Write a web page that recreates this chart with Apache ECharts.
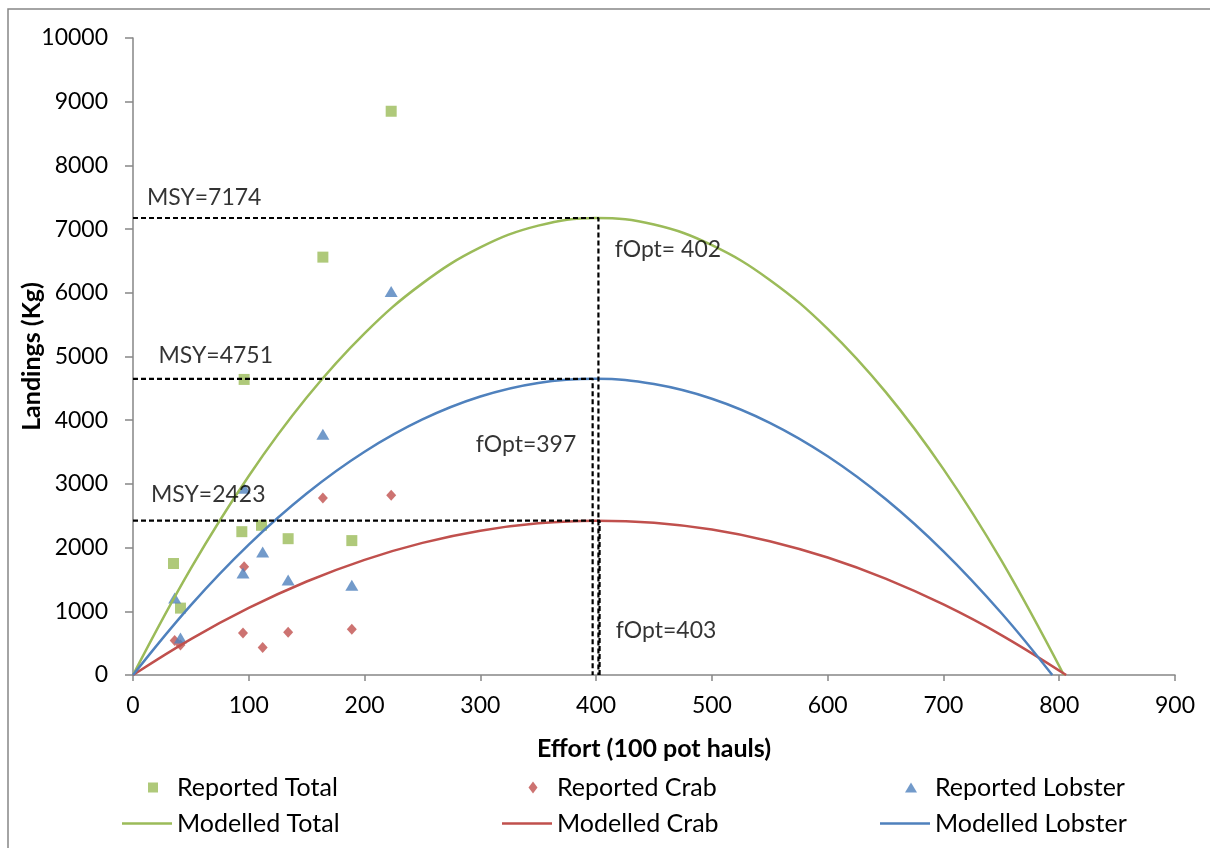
<!DOCTYPE html>
<html><head><meta charset="utf-8">
<script src="https://cdn.jsdelivr.net/npm/echarts@6/dist/echarts.min.js"></script>
<style>html,body{margin:0;padding:0;background:#fff}#c{width:1210px;height:848px}</style>
</head><body><div id="c"></div>
<script>
// Reported data (effort, landings)
const reportedTotal = [[223,8850],[164,6560],[96,4640],[94,2250],[111,2350],[134,2140],[189,2110],[35,1750],[41,1050]];
const reportedCrab = [[96,1700],[164,2780],[223,2820],[95,660],[112,430],[134,670],[189,720],[36,540],[41,470]];
const reportedLobster = [[223,6020],[164,3780],[96,2930],[112,1930],[95,1600],[134,1490],[189,1410],[36,1210],[41,580]];
// Modelled curves
const effortGrid = [0,50,100,150,200,250,300,350,400,450,500,550,600,650,700,750];
const modelTotalY = [0,1674,3125,4355,5363,6148,6712,7054,7174,7072,6748,6202,5434,4444,3232,1798];
const modelTotalEnd = [804,0];
const modelCrabY = [0,564,1053,1468,1808,2074,2265,2381,2423,2390,2283,2101,1844,1513,1107,627];
const modelCrabEnd = [806,0];
const modelLobsterY = [0,1098,2048,2850,3505,4012,4372,4585,4650,4567,4337,3959,3434,2762,1941,974];
const modelLobsterEnd = [794,0];
// Optimum reference lines
const fOpt = {total:402, lobster:397, crab:403};
const msyLevel = {total:7174, lobster:4650, crab:2423};
// Annotation texts with anchor coordinates
const annoText = ['MSY=7174','MSY=4751','MSY=2423','fOpt= 402','fOpt=397','fOpt=403'];
const annoX = [12,22,15.5,416,296,417];
const annoY = [7490,5008,2826,6672,3611,691];
const xTicks = [0,100,200,300,400,500,600,700,800,900];
const yTicks = [0,1000,2000,3000,4000,5000,6000,7000,8000,9000,10000];

const C_GREEN='#9BBB59', C_RED='#C0504D', C_BLUE='#4F81BD';
const FONT='Lato';
const FS=23;
const LFS=25;

function curve(ys, end){ const d = effortGrid.map((x,i)=>[x,ys[i]]); d.push(end); return d; }
function refLine(f,m){ return [[0,m],[f,m],[f,0]]; }

const chart = echarts.init(document.getElementById('c'));
const axisLine = {show:true, lineStyle:{color:'#868686', width:1.5}};
const dashStyle = {color:'#000', width:2.2, type:[5,3]};
const legTxt = {fontFamily:FONT, fontSize:LFS, color:'#000'};
const colShift = [0, 380, 758];
const legends = [];
const scatNames = ['Reported Total','Reported Crab','Reported Lobster'];
const scatIcons = ['rect','diamond','triangle'];
const scatW = [10,9,12], scatH = [10,12,10];
const scatCenter = 148;
const lineNames = ['Modelled Total','Modelled Crab','Modelled Lobster'];
for (let i=0;i<3;i++){
  const cx = scatCenter + colShift[i];
  const left = cx - scatW[i]/2;
  legends.push({left:left, top:770, itemWidth:scatW[i], itemHeight:scatH[i], icon:scatIcons[i], selectedMode:false,
    data:[scatNames[i]], textStyle:Object.assign({padding:[0,0,0,(177+colShift[i]) - (left+scatW[i]+10)]}, legTxt)});
  legends.push({left:117+colShift[i], top:806, itemWidth:50, itemHeight:2.5, icon:'rect', selectedMode:false,
    data:[lineNames[i]], textStyle:legTxt});
}

chart.setOption({
  animation:false,
  backgroundColor:'#fff',
  textStyle:{fontFamily:FONT},
  graphic:[{type:'rect', shape:{x:8, y:9, width:1400, height:1000}, style:{fill:'none', stroke:'#868686', lineWidth:1.5}, silent:true, z:-1}],
  grid:{left:133, right:35, top:38, bottom:173, containLabel:false, outerBoundsMode:'none'},
  legend:legends,
  xAxis:{type:'value', min:0, max:900, interval:100, splitLine:{show:false}, axisLine:axisLine,
    axisTick:{show:true, length:6, lineStyle:{color:'#868686', width:1.5}},
    axisLabel:{margin:19, fontSize:FS, color:'#000', fontFamily:FONT, formatter:v=>xTicks.includes(v)?String(v):''},
    name:'Effort (100 pot hauls)', nameLocation:'middle', nameGap:61, nameMoveOverlap:false,
    nameTextStyle:{fontSize:25, fontWeight:'bold', color:'#000', fontFamily:FONT}},
  yAxis:{type:'value', min:0, max:10000, interval:1000, splitLine:{show:false}, axisLine:axisLine,
    axisTick:{show:true, length:8, lineStyle:{color:'#868686', width:1.5}},
    axisLabel:{margin:25, fontSize:FS, color:'#000', fontFamily:FONT, formatter:v=>yTicks.includes(v)?String(v):''},
    name:'Landings (Kg)', nameLocation:'middle', nameGap:89, nameMoveOverlap:false,
    nameTextStyle:{fontSize:25, fontWeight:'bold', color:'#000', fontFamily:FONT}},
  series:[
    {name:'Modelled Total', type:'line', data:curve(modelTotalY, modelTotalEnd), smooth:0.4, symbol:'none', showSymbol:false, lineStyle:{color:C_GREEN, width:2.5}, itemStyle:{color:C_GREEN}, z:3},
    {name:'Modelled Crab', type:'line', data:curve(modelCrabY, modelCrabEnd), smooth:0.4, symbol:'none', showSymbol:false, lineStyle:{color:C_RED, width:2.5}, itemStyle:{color:C_RED}, z:3},
    {name:'Modelled Lobster', type:'line', data:curve(modelLobsterY, modelLobsterEnd), smooth:0.4, symbol:'none', showSymbol:false, lineStyle:{color:C_BLUE, width:2.5}, itemStyle:{color:C_BLUE}, z:3},
    {name:'refTotal', type:'line', data:refLine(fOpt.total, msyLevel.total), symbol:'none', lineStyle:dashStyle, z:4, silent:true},
    {name:'refLobster', type:'line', data:refLine(fOpt.lobster, msyLevel.lobster), symbol:'none', lineStyle:dashStyle, z:4, silent:true},
    {name:'refCrab', type:'line', data:refLine(fOpt.crab, msyLevel.crab), symbol:'none', lineStyle:dashStyle, z:4, silent:true},
    {name:'Reported Total', type:'scatter', data:reportedTotal, symbol:'rect', symbolSize:11, itemStyle:{color:C_GREEN}, z:2},
    {name:'Reported Crab', type:'scatter', data:reportedCrab, symbol:'diamond', symbolSize:[10,11], itemStyle:{color:C_RED}, z:2},
    {name:'Reported Lobster', type:'scatter', data:reportedLobster, symbol:'triangle', symbolSize:[13,11], itemStyle:{color:C_BLUE}, z:2},
    {name:'annotations', type:'scatter', symbolSize:0, silent:true, z:5,
      data:annoText.map((t,i)=>({value:[annoX[i], annoY[i]], label:{formatter:t}})),
      label:{show:true, position:'right', distance:0, fontSize:FS, color:'#000', fontFamily:FONT}}
  ]
});
</script></body></html>
